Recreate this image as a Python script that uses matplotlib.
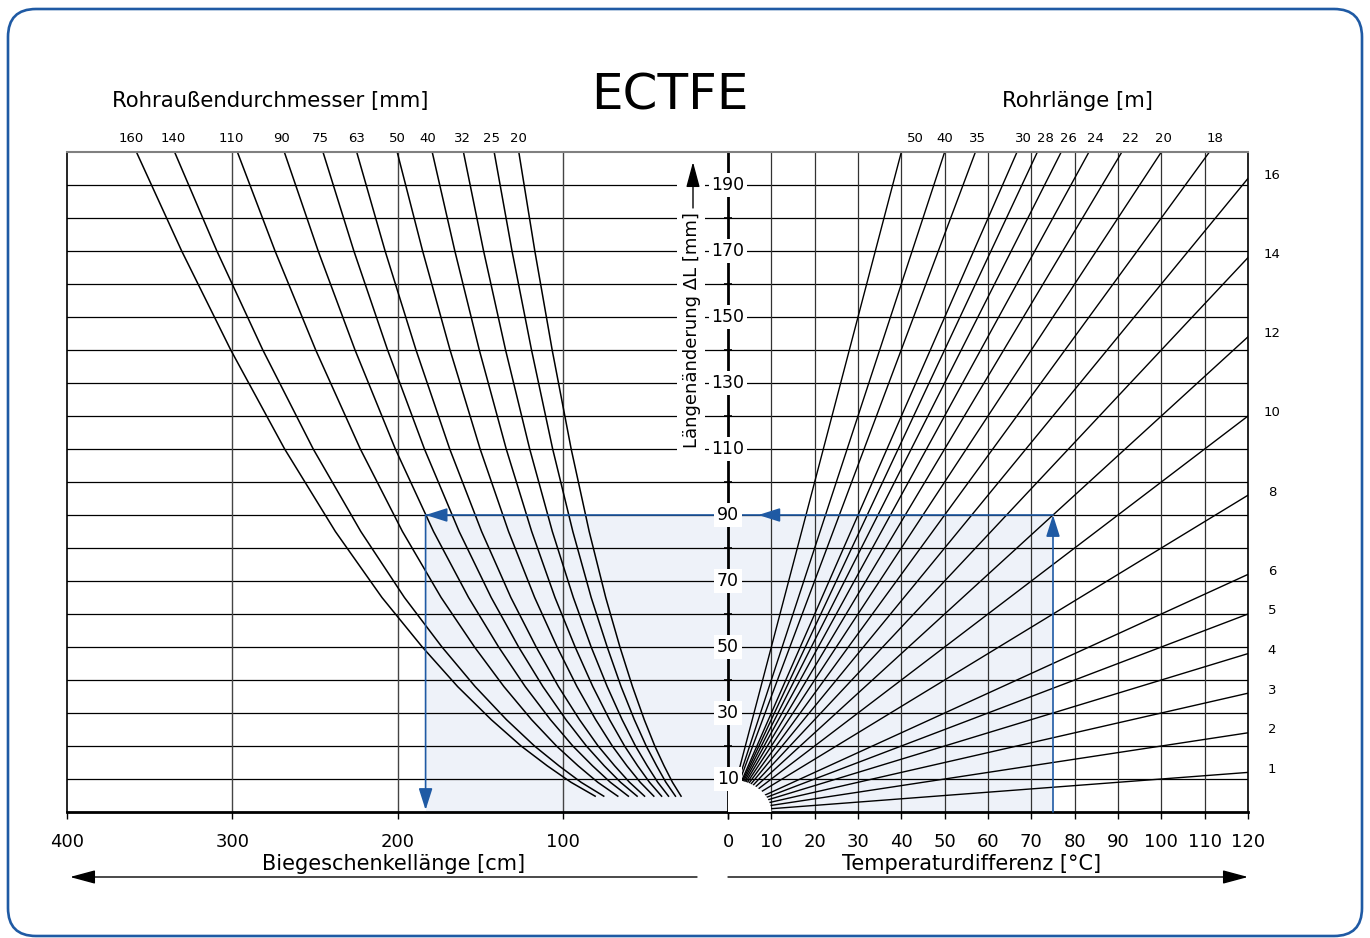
import matplotlib
matplotlib.use("Agg")
import matplotlib.pyplot as plt
import matplotlib.transforms as mtransforms
from matplotlib.patches import Rectangle, Ellipse, FancyBboxPatch, FancyArrowPatch

plt.rcParams['font.family'] = ['DejaVu Sans']

# Längenänderung levels (mm) at which the bending-leg curves were read
dl_levels = [200, 170, 140, 110, 85, 65, 50, 38, 28, 20, 14, 9, 4.8]

# pipe outer diameters (mm) and their Biegeschenkellänge (cm) at dl_levels
diameters = [160, 140, 110, 90, 75, 63, 50, 40, 32, 25, 20]
bend_cm = [
    [358.0, 330.6, 300.9, 268.3, 237.6, 209.4, 185.0, 163.6, 143.3, 125.2, 109.4, 95.0, 80.4],
    [334.9, 309.3, 281.5, 251.0, 222.2, 195.8, 173.1, 153.0, 134.1, 117.1, 102.3, 88.9, 75.2],
    [296.9, 274.1, 249.5, 222.5, 197.0, 173.6, 153.4, 135.6, 118.9, 103.8, 90.7, 78.8, 66.7],
    [268.5, 248.0, 225.7, 201.3, 178.2, 157.0, 138.8, 122.7, 107.5, 93.9, 82.0, 71.2, 60.3],
    [245.1, 226.4, 206.0, 183.7, 162.7, 143.3, 126.7, 112.0, 98.1, 85.7, 74.9, 65.0, 55.0],
    [224.7, 207.5, 188.8, 168.4, 149.1, 131.4, 116.1, 102.6, 89.9, 78.6, 68.6, 59.6, 50.5],
    [200.2, 184.8, 168.2, 150.0, 132.8, 117.0, 103.4, 91.4, 80.1, 70.0, 61.2, 53.1, 44.9],
    [179.0, 165.3, 150.5, 134.2, 118.8, 104.7, 92.5, 81.8, 71.7, 62.6, 54.7, 47.5, 40.2],
    [160.1, 147.9, 134.6, 120.0, 106.3, 93.6, 82.8, 73.1, 64.1, 56.0, 48.9, 42.5, 36.0],
    [141.5, 130.7, 118.9, 106.1, 93.9, 82.8, 73.1, 64.7, 56.7, 49.5, 43.2, 37.6, 31.8],
    [126.6, 116.9, 106.4, 94.9, 84.0, 74.0, 65.4, 57.8, 50.7, 44.3, 38.7, 33.6, 28.4],
]

# pipe lengths (m): lines leaving through the top edge (dT where dL = 200)
lengths_top = [50, 40, 35, 30, 28, 26, 24, 22, 20, 18]
dT_at_top = [40.0, 50.0, 57.1, 66.7, 71.4, 76.9, 83.3, 90.9, 100.0, 111.1]
# pipe lengths (m): lines leaving through the right edge (dL at dT = 120)
lengths_side = [16, 14, 12, 10, 8, 6, 5, 4, 3, 2, 1]
dL_at_120 = [192, 168, 144, 120, 96, 72, 60, 48, 36, 24, 12]

# worked example: 75 K, 12 m -> 90 mm -> d90 -> 183 cm
ex_dT, ex_dL, ex_bend = 75, 90, 183

bottom_left_ticks = [400, 300, 200, 100, 0]
bottom_right_ticks = list(range(0, 130, 10))
center_labels = list(range(10, 200, 20))

blue = '#1F5AA4'
shade = '#EEF2F9'

W, H = 1370, 938
def fx(px):
    return px / W
def fy(py):
    return 1 - py / H

fig = plt.figure(figsize=(13.7, 9.38), dpi=100)
axl = fig.add_axes([fx(67), fy(812), fx(728) - fx(67), fy(152) - fy(812)])
axr = fig.add_axes([fx(728), fy(812), fx(1248) - fx(728), fy(152) - fy(812)])

axl.set_xlim(400, 0)
axr.set_xlim(0, 120)
for ax in (axl, axr):
    ax.set_ylim(0, 200)
    for v in range(10, 200, 10):
        ax.axhline(v, color='black', lw=0.9, zorder=1)
    ax.spines['top'].set_color('#808080')
    ax.spines['top'].set_linewidth(1.5)
    ax.spines['bottom'].set_linewidth(2.0)

for v in [100, 200, 300]:
    axl.axvline(v, color='#444444', lw=1.0, zorder=1)
for v in range(10, 120, 10):
    axr.axvline(v, color='#333333', lw=0.9, zorder=1)

# shaded example area
axl.add_patch(Rectangle((0, 0), ex_bend, ex_dL, fc=shade, ec='none', zorder=0.5))
axr.add_patch(Rectangle((0, 0), ex_dT, ex_dL, fc=shade, ec='none', zorder=0.5))

# bending-leg curves
for xs in bend_cm:
    axl.plot(xs, dl_levels, color='black', lw=1.1, zorder=2)

# pipe length lines from origin
for t in dT_at_top:
    axr.plot([0, t], [0, 200], color='black', lw=1.0, zorder=2)
for d in dL_at_120:
    axr.plot([0, 120], [0, d], color='black', lw=1.0, zorder=2)
axr.add_patch(Ellipse((0, 0), 20, 20, fc='white', ec='none', zorder=3))

# spines / ticks
axl.spines['right'].set_visible(False)
axl.spines['left'].set_linewidth(1.2)
axr.spines['left'].set_linewidth(2.0)
axr.spines['right'].set_linewidth(1.2)

axl.set_yticks([])
axl.set_xticks(bottom_left_ticks)
axl.set_xticklabels([str(v) if v else '' for v in bottom_left_ticks])
axr.set_xticks(bottom_right_ticks)
axr.set_xticklabels([str(v) for v in bottom_right_ticks])
for ax in (axl, axr):
    ax.tick_params(axis='x', direction='out', length=5, width=1, pad=10, labelsize=13)
axr.set_yticks(range(20, 200, 20))
axr.tick_params(axis='y', direction='inout', length=6, width=1.2, labelleft=False)

# center ΔL labels
for v in center_labels:
    axr.text(0, v, str(v), ha='center', va='center', fontsize=12.5, zorder=6,
             bbox=dict(fc='white', ec='none', pad=2.0))

# white strip behind the rotated axis title
axl.add_patch(Rectangle((14, 108), 17, 90, fc='white', ec='none', zorder=4))
fig.text(fx(692), fy(330), 'Längenänderung ΔL [mm]', rotation=90,
         ha='center', va='center', fontsize=13)

# diameter labels on top
diam_label_x = [361.3, 335.9, 300.8, 269.9, 246.9, 224.5, 200.3, 181.5, 160.4, 143.4, 127.1]
tl = mtransforms.blended_transform_factory(axl.transData, axl.transAxes)
for x, d in zip(diam_label_x, diameters):
    axl.text(x, 1.021, str(d), transform=tl, ha='center', va='center', fontsize=9.5)

# length labels on top and right
top_label_x = [43.2, 50.1, 57.5, 68.1, 73.2, 78.5, 84.9, 92.8, 100.6, 112.4]
tr = mtransforms.blended_transform_factory(axr.transData, axr.transAxes)
for x, L in zip(top_label_x, lengths_top):
    axr.text(x, 1.021, str(L), transform=tr, ha='center', va='center', fontsize=9.5)
for d, L in zip(dL_at_120, lengths_side):
    axr.annotate(str(L), xy=(120, d), xytext=(24, 3), textcoords='offset pixels',
                 ha='center', va='center', fontsize=9.5, annotation_clip=False)

# example arrows
ap = dict(arrowstyle='-|>,head_length=1.1,head_width=0.35', color=blue, lw=1.2,
          shrinkA=0, shrinkB=0, mutation_scale=12)
axl.plot([ex_bend, 0], [ex_dL, ex_dL], color=blue, lw=1.2, zorder=4)
axr.plot([0, ex_dT], [ex_dL, ex_dL], color=blue, lw=1.2, zorder=4)
axl.annotate('', xy=(ex_bend, 0.6), xytext=(ex_bend, ex_dL), arrowprops=ap, zorder=5)
axl.annotate('', xy=(ex_bend, ex_dL), xytext=(ex_bend - 6, ex_dL), arrowprops=ap, zorder=5)
axr.annotate('', xy=(7, ex_dL), xytext=(11, ex_dL), arrowprops=ap, zorder=5)
axr.annotate('', xy=(ex_dT, ex_dL), xytext=(ex_dT, 0), arrowprops=ap, zorder=5)

# titles
fig.text(fx(670), fy(95), 'ECTFE', ha='center', va='center', fontsize=36)
fig.text(fx(270), fy(101), 'Rohraußendurchmesser [mm]', ha='center', va='center', fontsize=15.3)
fig.text(fx(1077), fy(101), 'Rohrlänge [m]', ha='center', va='center', fontsize=15.3)
fig.text(fx(394), fy(864), 'Biegeschenkellänge [cm]', ha='center', va='center', fontsize=15)
fig.text(fx(972), fy(864), 'Temperaturdifferenz [°C]', ha='center', va='center', fontsize=15)

# arrows under the axis titles and next to the ΔL title
bp = dict(arrowstyle='-|>,head_length=1.3,head_width=0.35', color='black', lw=1.0,
          mutation_scale=12, transform=fig.transFigure, shrinkA=0, shrinkB=0)
fig.add_artist(FancyArrowPatch((fx(697), fy(877)), (fx(70), fy(877)), **bp))
fig.add_artist(FancyArrowPatch((fx(728), fy(877)), (fx(1248), fy(877)), **bp))
fig.add_artist(FancyArrowPatch((fx(693), fy(208)), (fx(693), fy(162)), **bp))

# rounded blue frame
frame = FancyBboxPatch((0.08, 0.02), 13.54, 9.27, boxstyle='round,pad=0,rounding_size=0.28',
                       transform=fig.dpi_scale_trans, fc='none', ec=blue, lw=1.9)
fig.add_artist(frame)

fig.savefig('out.png', dpi=100)
